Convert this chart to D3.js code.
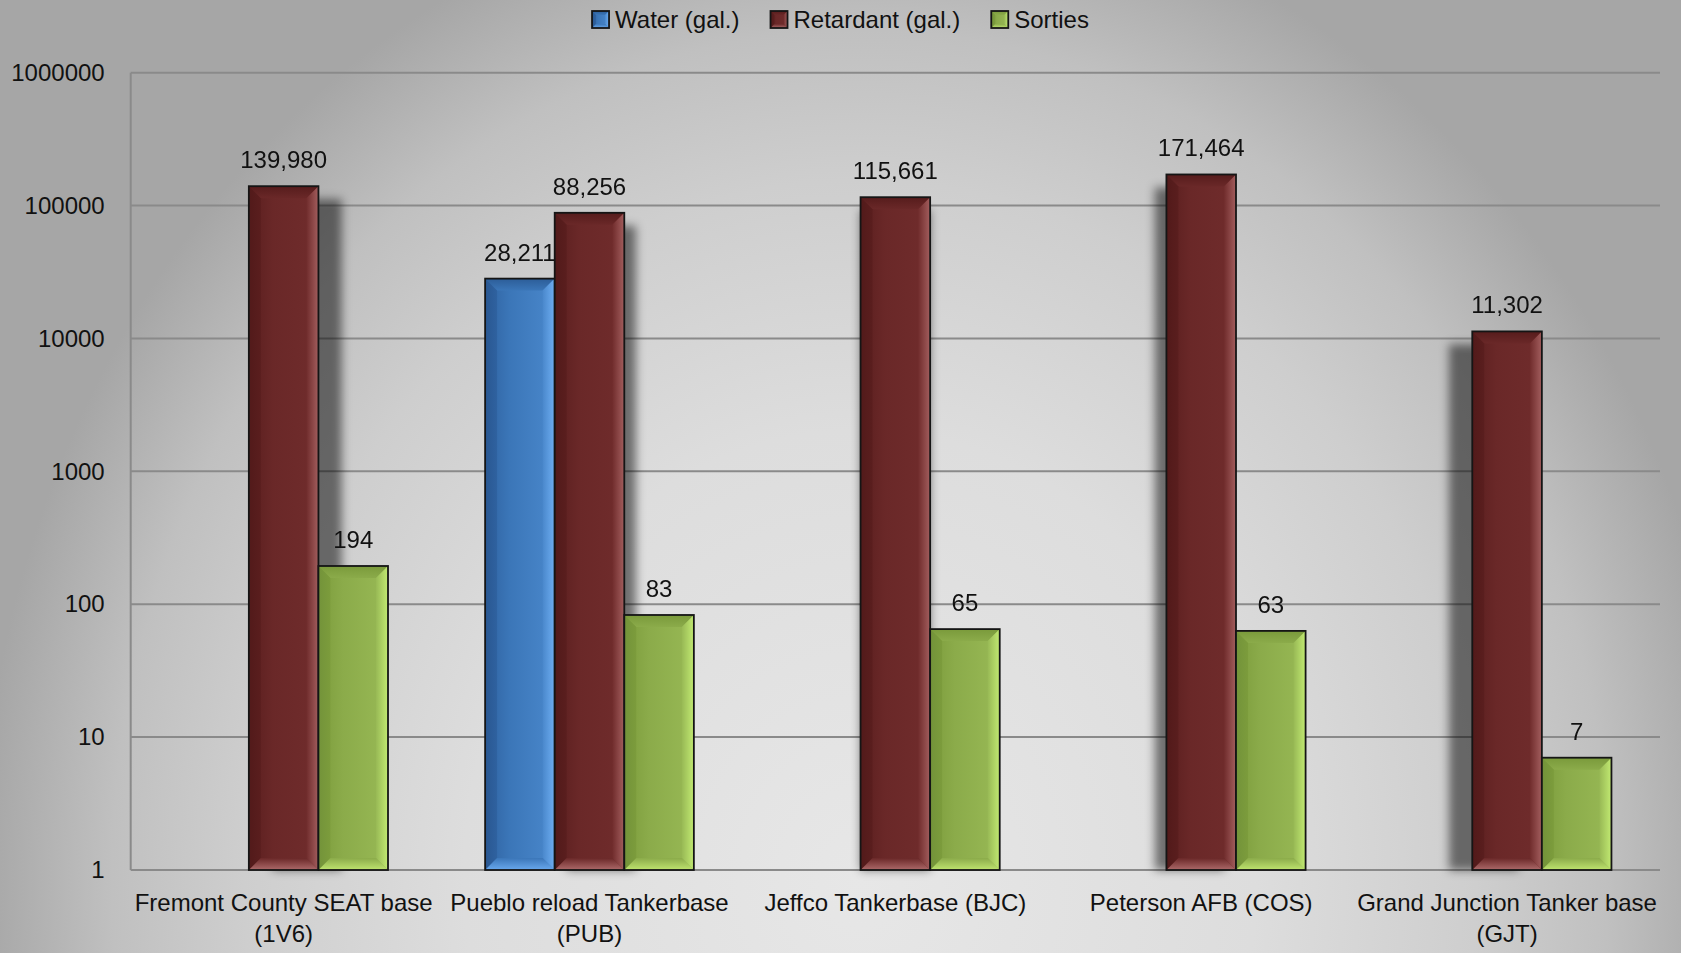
<!DOCTYPE html>
<html>
<head>
<meta charset="utf-8">
<script src="https://cdn.jsdelivr.net/npm/d3@7"></script>
<style>
  html, body { margin: 0; padding: 0; background: #d0d0d0; }
  svg { display: block; }
  text { font-family: "Liberation Sans", Arial, sans-serif; fill: #111; }
</style>
</head>
<body>
<svg id="chart" width="1681" height="953"></svg>
<script>
// ---- data ----
const categories = [
  "Fremont County SEAT base (1V6)",
  "Pueblo reload Tankerbase (PUB)",
  "Jeffco Tankerbase (BJC)",
  "Peterson AFB (COS)",
  "Grand Junction Tanker base (GJT)"
];
const seriesNames = ["Water (gal.)", "Retardant (gal.)", "Sorties"];
const waterValues = [null, 28211, null, null, null];
const retardantValues = [139980, 88256, 115661, 171464, 11302];
const sortiesValues = [194, 83, 65, 63, 7];
const yTickValues = [1, 10, 100, 1000, 10000, 100000, 1000000];

// ---- styles ----
const W = 1681, H = 953;
const margin = { left: 130.7, right: 21, top: 72.7, bottom: 83 };
const palettes = [
  { id: "w", base: ["#2f62a0", "#3b76b8", "#4a88cc"], top: "#2c5d98", left: "#295791", right: "#6eaef2", bottom: "#69a9ee" },
  { id: "r", base: ["#5a1e1e", "#6a2828", "#702c2c"], top: "#561c1c", left: "#521a1a", right: "#a35e5e", bottom: "#ad6a6a" },
  { id: "s", base: ["#7c9c3c", "#8bab4a", "#98b955"], top: "#7a9a3b", left: "#73933a", right: "#c2ea72", bottom: "#bfe56f" }
];
const fontSize = 24;

const svg = d3.select("#chart");
const defs = svg.append("defs");

// background radial gradient
const bg = defs.append("radialGradient").attr("id", "bg")
  .attr("gradientUnits", "userSpaceOnUse")
  .attr("cx", 0).attr("cy", 0).attr("r", 1)
  .attr("gradientTransform", "translate(860,880) scale(880,1000)");
[[0, "#e7e7e7"], [0.45, "#dddddd"], [0.7, "#cecece"], [0.85, "#c0c0c0"], [1, "#a6a6a6"]]
  .forEach(([o, c]) => bg.append("stop").attr("offset", o).attr("stop-color", c));
svg.append("rect").attr("width", W).attr("height", H).attr("fill", "url(#bg)");

// bar gradients
function lin(id, x2, y2, stops) {
  const g = defs.append("linearGradient").attr("id", id)
    .attr("x1", 0).attr("y1", 0).attr("x2", x2).attr("y2", y2);
  stops.forEach(([o, c]) => g.append("stop").attr("offset", o).attr("stop-color", c));
}
palettes.forEach(p => {
  lin("base-" + p.id, 1, 0, [[0, p.base[0]], [0.35, p.base[1]], [1, p.base[2]]]);
  lin("top-" + p.id, 0, 1, [[0, p.top], [1, p.base[1]]]);
  lin("left-" + p.id, 1, 0, [[0, p.left], [1, p.base[0]]]);
  lin("right-" + p.id, 1, 0, [[0, p.base[2]], [1, p.right]]);
  lin("bottom-" + p.id, 0, 1, [[0, p.base[1]], [1, p.bottom]]);
});
defs.append("filter").attr("id", "shadow").attr("x", "-50%").attr("y", "-10%")
  .attr("width", "200%").attr("height", "120%")
  .append("feGaussianBlur").attr("stdDeviation", 5);

// ---- scales ----
const x0 = d3.scaleBand().domain(categories)
  .range([margin.left, W - margin.right]).paddingInner(0).paddingOuter(0);
const barW = x0.bandwidth() * 0.2275;
const x1 = d3.scaleBand().domain(seriesNames)
  .range([x0.bandwidth() / 2 - 1.5 * barW, x0.bandwidth() / 2 + 1.5 * barW]);
const y = d3.scaleLog().domain([1, 1000000]).range([H - margin.bottom, margin.top]);

// ---- gridlines & axes ----
const grid = svg.append("g");
grid.selectAll("line.g").data(yTickValues).join("line")
  .attr("x1", margin.left).attr("x2", W - margin.right)
  .attr("y1", d => y(d)).attr("y2", d => y(d))
  .attr("stroke", "#8a8a8a").attr("stroke-width", 2);
grid.append("line")
  .attr("x1", margin.left).attr("x2", margin.left)
  .attr("y1", y(1000000)).attr("y2", y(1))
  .attr("stroke", "#8a8a8a").attr("stroke-width", 2);

const yAxis = d3.axisLeft(y).tickValues(yTickValues).tickFormat(d3.format("d")).tickSize(0).tickPadding(26);
const yg = svg.append("g").attr("transform", `translate(${margin.left},0)`).call(yAxis);
yg.select(".domain").remove();
yg.selectAll("text").attr("font-size", fontSize).attr("fill", "#111")
  .attr("font-family", "Liberation Sans, Arial, sans-serif");

// category labels (wrapped)
const xAxis = d3.axisBottom(x0).tickSize(0).tickPadding(0);
const xg = svg.append("g").attr("transform", `translate(0,${y(1)})`).call(xAxis);
xg.select(".domain").remove();
xg.selectAll("text").attr("font-size", fontSize).attr("fill", "#111")
  .attr("font-family", "Liberation Sans, Arial, sans-serif")
  .each(function (d) {
    const t = d3.select(this);
    t.text(null).attr("y", 0).attr("dy", null);
    const words = d.split(" ");
    const lines = [];
    let cur = [];
    const probe = t.append("tspan");
    words.forEach(wd => {
      const test = cur.concat(wd).join(" ");
      probe.text(test);
      if (probe.node().getComputedTextLength() > x0.bandwidth() && cur.length) {
        lines.push(cur.join(" "));
        cur = [wd];
      } else cur.push(wd);
    });
    lines.push(cur.join(" "));
    probe.remove();
    lines.forEach((ln, i) => t.append("tspan").attr("x", 0).attr("y", 40.7 + i * 31).text(ln));
  });

// ---- bars ----
const seriesValues = [waterValues, retardantValues, sortiesValues];
const plotCenter = (margin.left + W - margin.right) / 2;

function barGeom(ci, si, v) {
  const bx = x0(categories[ci]) + x1(seriesNames[si]);
  const by = y(v);
  return { x: bx, y: by, w: x1.bandwidth(), h: y(1) - by };
}

function bevelBar(g, b, p, bev) {
  const { x, y: t, w, h } = b;
  const e = Math.min(bev, w / 2, h / 2);
  g.append("rect").attr("x", x).attr("y", t).attr("width", w).attr("height", h)
    .attr("fill", `url(#base-${p.id})`);
  const poly = (pts, fill) => g.append("polygon")
    .attr("points", pts.map(q => q.join(",")).join(" ")).attr("fill", fill);
  poly([[x, t], [x + w, t], [x + w - e, t + e], [x + e, t + e]], `url(#top-${p.id})`);
  poly([[x, t], [x + e, t + e], [x + e, t + h - e], [x, t + h]], `url(#left-${p.id})`);
  poly([[x + w, t], [x + w, t + h], [x + w - e, t + h - e], [x + w - e, t + e]], `url(#right-${p.id})`);
  poly([[x, t + h], [x + e, t + h - e], [x + w - e, t + h - e], [x + w, t + h]], `url(#bottom-${p.id})`);
  g.append("rect").attr("x", x).attr("y", t).attr("width", w).attr("height", h)
    .attr("fill", "none").attr("stroke", "#151515").attr("stroke-width", 1.8);
}

// shadows (retardant series casts a visible perspective shadow)
const shadowG = svg.append("g").attr("filter", "url(#shadow)");
retardantValues.forEach((v, ci) => {
  if (v == null) return;
  const b = barGeom(ci, 1, v);
  const dx = (plotCenter - (b.x + b.w / 2)) * 0.038;
  shadowG.append("rect").attr("x", b.x + dx).attr("y", b.y + 13)
    .attr("width", b.w).attr("height", b.h - 13)
    .attr("fill", "#000").attr("opacity", 0.5);
});

const fmt = d3.format(",");
seriesValues.forEach((vals, si) => {
  const g = svg.append("g");
  vals.forEach((v, ci) => {
    if (v == null) return;
    const b = barGeom(ci, si, v);
    bevelBar(g, b, palettes[si], 12);
  });
  const lg = svg.append("g");
  vals.forEach((v, ci) => {
    if (v == null) return;
    const b = barGeom(ci, si, v);
    lg.append("text").attr("x", b.x + b.w / 2).attr("y", b.y - 18)
      .attr("text-anchor", "middle").attr("font-size", fontSize).text(fmt(v));
  });
});

// ---- legend ----
const leg = svg.append("g");
let lx = 0;
const sw = 17;
seriesNames.forEach((name, si) => {
  const item = leg.append("g").attr("transform", `translate(${lx},0)`);
  bevelBar(item, { x: 0, y: 11, w: sw, h: sw }, palettes[si], 4);
  const t = item.append("text").attr("x", sw + 6).attr("y", 27.5)
    .attr("font-size", fontSize).text(name);
  lx += sw + 6 + t.node().getComputedTextLength() + 31;
});
const legW = lx - 31;
leg.attr("transform", `translate(${W / 2 - legW / 2},0)`);
</script>
</body>
</html>
